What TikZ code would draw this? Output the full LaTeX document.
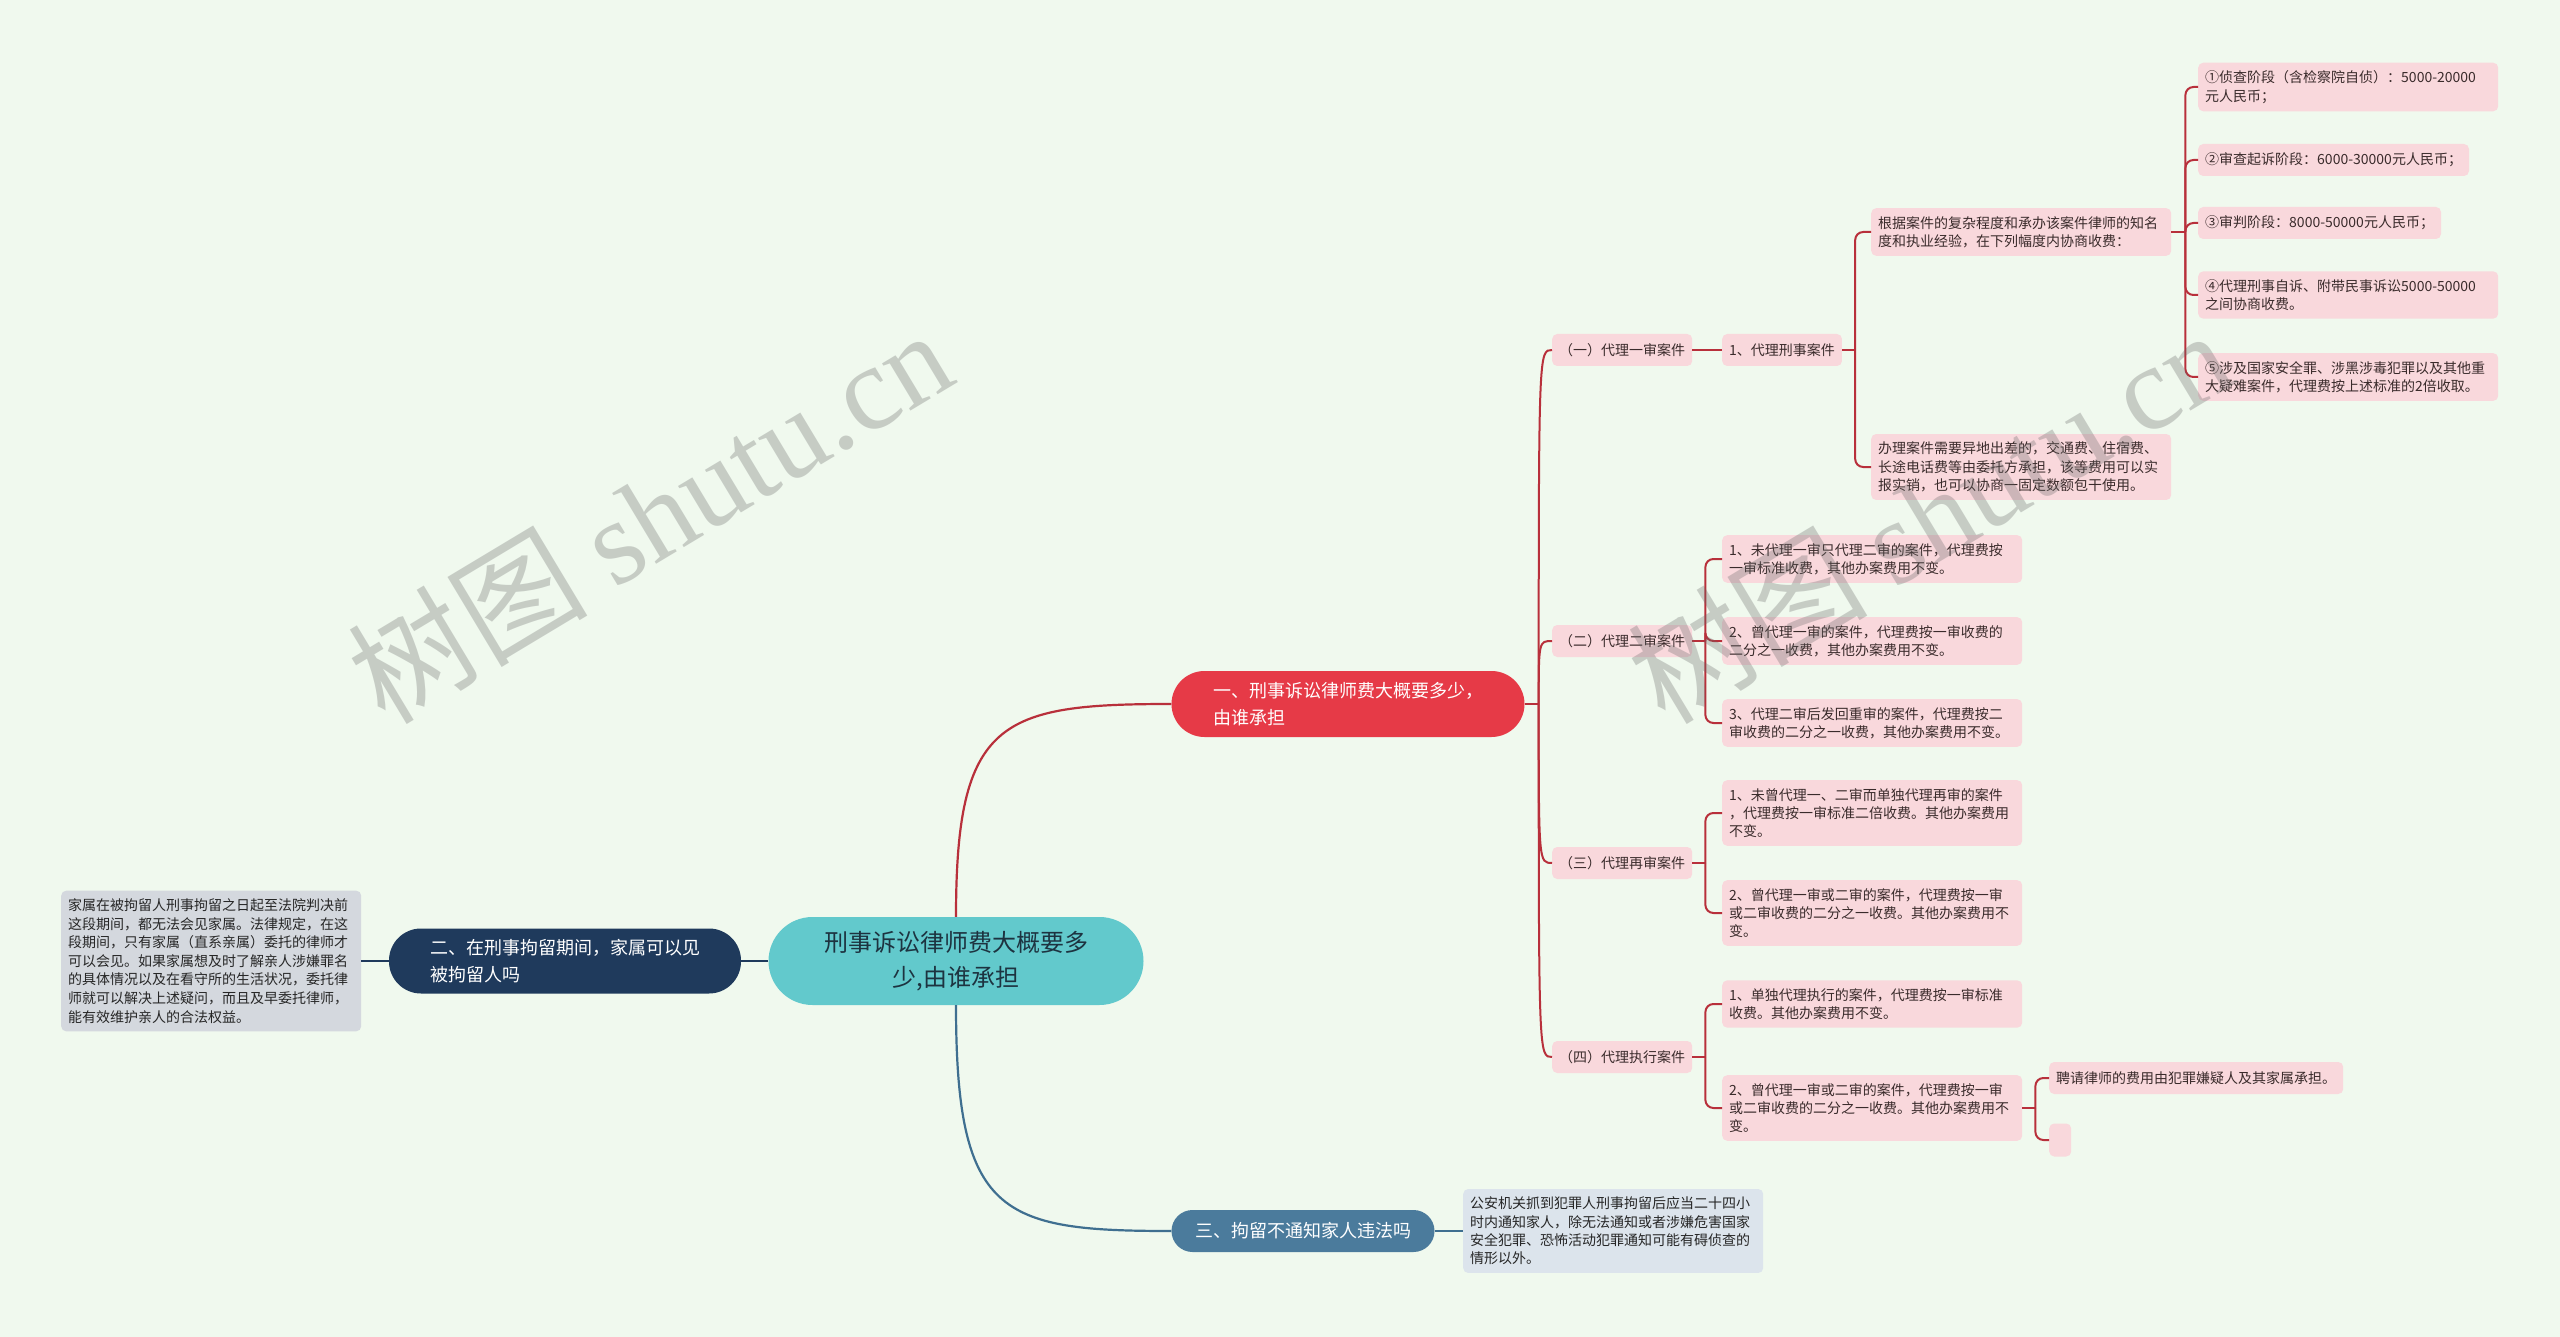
\documentclass[tikz,border=0pt]{standalone}
\usepackage{fontspec}
\setmainfont{Noto Sans CJK SC}
\newfontfamily\wmserif{Liberation Serif}

\definecolor{bgmint}{HTML}{F0F9EE}
\definecolor{rootteal}{HTML}{62C9CC}
\definecolor{rootink}{HTML}{1D3340}
\definecolor{feered}{HTML}{E63A47}
\definecolor{feewire}{HTML}{B8303B}
\definecolor{leafpink}{HTML}{F9D8DC}
\definecolor{leafink}{HTML}{3A2B2B}
\definecolor{visitnavy}{HTML}{1F3A5C}
\definecolor{notifyblue}{HTML}{4B7B9C}
\definecolor{notifywire}{HTML}{3F6F90}
\definecolor{notegray}{HTML}{D4D8DE}
\definecolor{noteblue}{HTML}{DCE4EC}

\tikzset{
  pill/.style={rounded corners=#1, inner sep=0pt, align=left, text=white, font=\fontsize{18}{27}\selectfont},
  leaf/.style={anchor=west, fill=leafpink, rounded corners=5pt, inner xsep=7pt, inner ysep=8pt, text=leafink, font=\fontsize{14}{18.3}\selectfont, align=left},
  tag/.style={leaf, minimum height=32pt, inner ysep=0pt},
  wide/.style={text width=286pt},
  feelink/.style={draw=feewire, line width=2pt},
  watermark/.style={rotate=31, opacity=0.3, text=black!60, font=\fontsize{120}{120}\selectfont},
}

\begin{document}
\begin{tikzpicture}[x=1pt,y=-1pt]
\fill[bgmint] (0,0) rectangle (2560,1337);
\useasboundingbox (0,0) rectangle (2560,1337);

% centre and main topics
\node[pill=44pt, fill=rootteal, text=rootink, align=center, minimum width=375pt, minimum height=88pt, font=\fontsize{24}{35}\selectfont] (root) at (956,961) {刑事诉讼律师费大概要多\\少,由谁承担};
\node[pill=33pt, fill=feered, minimum width=353pt, minimum height=66pt] (fee) at (1348,704) {一、刑事诉讼律师费大概要多少，\\由谁承担};
\node[pill=32pt, fill=visitnavy, minimum width=352pt, minimum height=65pt] (visit) at (565,961) {二、在刑事拘留期间，家属可以见\\被拘留人吗};
\node[pill=21pt, fill=notifyblue, minimum width=263pt, minimum height=42pt] (notify) at (1303,1231) {三、拘留不通知家人违法吗};

\node[leaf, wide, fill=notegray, text=black!85, inner ysep=8pt, font=\fontsize{14}{18.6}\selectfont] (visitnote) at (61,961) {家属在被拘留人刑事拘留之日起至法院判决前\\这段期间，都无法会见家属。法律规定，在这\\段期间，只有家属（直系亲属）委托的律师才\\可以会见。如果家属想及时了解亲人涉嫌罪名\\的具体情况以及在看守所的生活状况，委托律\\师就可以解决上述疑问，而且及早委托律师，\\能有效维护亲人的合法权益。};
\node[leaf, wide, fill=noteblue, text=black!85] (notifynote) at (1463,1231) {公安机关抓到犯罪人刑事拘留后应当二十四小\\时内通知家人，除无法通知或者涉嫌危害国家\\安全犯罪、恐怖活动犯罪通知可能有碍侦查的\\情形以外。};

% fee branch
\node[tag] (first) at (1552,350) {（一）代理一审案件};
\node[tag] (second) at (1552,641) {（二）代理二审案件};
\node[tag] (third) at (1552,863) {（三）代理再审案件};
\node[tag] (exec) at (1552,1057) {（四）代理执行案件};

\node[tag] (crim) at (1722,350) {1、代理刑事案件};
\node[leaf, wide] (range) at (1871,232) {根据案件的复杂程度和承办该案件律师的知名\\度和执业经验，在下列幅度内协商收费：};
\node[leaf, wide] (travel) at (1871,467) {办理案件需要异地出差的，交通费、住宿费、\\长途电话费等由委托方承担，该等费用可以实\\报实销，也可以协商一固定数额包干使用。};

\node[leaf, wide] (r1) at (2198,87) {①侦查阶段（含检察院自侦）：5000-20000\\元人民币；};
\node[tag] (r2) at (2198,160) {②审查起诉阶段：6000-30000元人民币；};
\node[tag] (r3) at (2198,223) {③审判阶段：8000-50000元人民币；};
\node[leaf, wide] (r4) at (2198,295) {④代理刑事自诉、附带民事诉讼5000-50000\\之间协商收费。};
\node[leaf, wide] (r5) at (2198,377) {⑤涉及国家安全罪、涉黑涉毒犯罪以及其他重\\大疑难案件，代理费按上述标准的2倍收取。};

\node[leaf, wide] (s1) at (1722,559) {1、未代理一审只代理二审的案件，代理费按\\一审标准收费，其他办案费用不变。};
\node[leaf, wide] (s2) at (1722,641) {2、曾代理一审的案件，代理费按一审收费的\\二分之一收费，其他办案费用不变。};
\node[leaf, wide] (s3) at (1722,723) {3、代理二审后发回重审的案件，代理费按二\\审收费的二分之一收费，其他办案费用不变。};

\node[leaf, wide] (t1) at (1722,813) {1、未曾代理一、二审而单独代理再审的案件\\，代理费按一审标准二倍收费。其他办案费用\\不变。};
\node[leaf, wide] (t2) at (1722,913) {2、曾代理一审或二审的案件，代理费按一审\\或二审收费的二分之一收费。其他办案费用不\\变。};

\node[leaf, wide] (e1) at (1722,1004) {1、单独代理执行的案件，代理费按一审标准\\收费。其他办案费用不变。};
\node[leaf, wide] (e2) at (1722,1108) {2、曾代理一审或二审的案件，代理费按一审\\或二审收费的二分之一收费。其他办案费用不\\变。};
\node[tag] (e21) at (2049,1078) {聘请律师的费用由犯罪嫌疑人及其家属承担。};
\node[tag, minimum width=22pt, minimum height=33pt, inner sep=0pt] (e22) at (2049,1140) {};

% connectors
\draw[feelink, line width=2.2pt] (root.north) .. controls (956,720) and (1000,704) .. (fee.west);
\draw[draw=notifywire, line width=2.2pt] (root.south) .. controls (956,1215) and (1000,1231) .. (notify.west);
\draw[draw=visitnavy, line width=2.2pt] (root.west) -- (visit.east);
\draw[draw=visitnavy, line width=2pt] (visit.west) -- (visitnote.east);
\draw[draw=notifywire, line width=2pt] (notify.east) -- (notifynote.west);

\draw[feelink] (fee.east) -- ++(14,0) coordinate (feehub);
\foreach \kid in {first,second,third,exec}
  \draw[feelink] (feehub) .. controls (feehub |- \kid.west) .. (\kid.west);

\draw[feelink] (first.east) -- (crim.west);
\draw[feelink] (crim.east) -- ++(13,0) coordinate (crimhub);
\foreach \kid in {range,travel}
  \draw[feelink, rounded corners=8pt] (crimhub) |- (\kid.west);
\draw[feelink] (range.east) -- ++(14,0) coordinate (rangehub);
\foreach \kid in {r1,r2,r3,r4,r5}
  \draw[feelink, rounded corners=8pt] (rangehub) |- (\kid.west);
\draw[feelink] (second.east) -- ++(13,0) coordinate (secondhub);
\foreach \kid in {s1,s2,s3}
  \draw[feelink, rounded corners=8pt] (secondhub) |- (\kid.west);
\draw[feelink] (third.east) -- ++(13,0) coordinate (thirdhub);
\foreach \kid in {t1,t2}
  \draw[feelink, rounded corners=8pt] (thirdhub) |- (\kid.west);
\draw[feelink] (exec.east) -- ++(13,0) coordinate (exechub);
\foreach \kid in {e1,e2}
  \draw[feelink, rounded corners=8pt] (exechub) |- (\kid.west);
\draw[feelink] (e2.east) -- ++(13,0) coordinate (e2hub);
\foreach \kid in {e21,e22}
  \draw[feelink, rounded corners=8pt] (e2hub) |- (\kid.west);

% watermarks
\node[watermark] (mark1) at (649,515) {树图 {\wmserif shutu.cn}};
\node[watermark] (mark2) at (1929,515) {树图 {\wmserif shutu.cn}};
\end{tikzpicture}
\end{document}
